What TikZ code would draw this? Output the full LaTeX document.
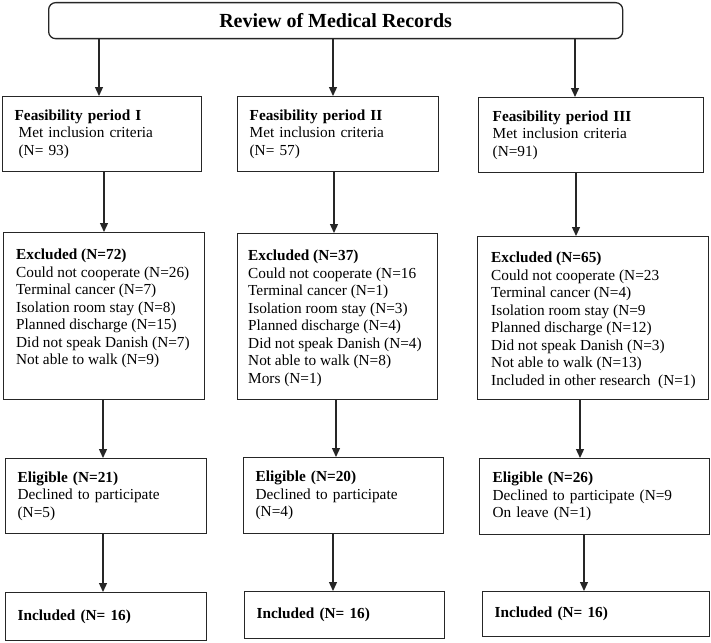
\documentclass[tikz,border=0pt]{standalone}
\usepackage{fontspec}
\setmainfont{Liberation Serif}
\usetikzlibrary{arrows.meta}
\tikzset{
  box/.style={draw=black!85, line width=1.3pt, anchor=north west, align=left, inner xsep=12pt, inner ysep=0pt},
  lst/.style={anchor=north west, align=left, inner sep=0pt},
  arr/.style={draw=black!85, line width=1.3pt, -{Triangle[length=9pt,width=8pt]}},
}
\begin{document}
\begin{tikzpicture}[x=1pt,y=-1pt,font=\fontsize{15.3}{17.5}\selectfont]
    \useasboundingbox (0,0) rectangle (711,642);
    \node[box, rounded corners=7pt, align=center, minimum width=574pt, minimum height=36pt, font=\fontsize{20}{24}\selectfont\bfseries] (rev) at (48,2) {Review of Medical Records};
    % feasibility periods
    \node[box, text width=175pt, minimum height=75pt] (p1) at (2,96) {\textbf{Feasibility period I}\\\hspace*{4pt}Met inclusion criteria\\\hspace*{4pt}(N= 93)};
    \node[box, text width=177pt, minimum height=75pt] (p2) at (237,96) {\textbf{Feasibility period II}\\Met inclusion criteria\\(N= 57)};
    \node[box, inner xsep=14pt, text width=197pt, minimum height=75pt] (p3) at (478,97) {\textbf{Feasibility period III}\\Met inclusion criteria\\(N=91)};
    % excluded
    \node[box, minimum width=201pt, minimum height=167pt] (x1) at (3,232) {};
    \node[lst] (x1t) at (16,249) {\textbf{Excluded (N=72)}\\Could not cooperate (N=26)\\Terminal cancer (N=7)\\Isolation room stay (N=8)\\Planned discharge (N=15)\\Did not speak Danish (N=7)\\Not able to walk (N=9)};
    \node[box, minimum width=200pt, minimum height=166pt] (x2) at (237,233) {};
    \node[lst] (x2t) at (248,250) {\textbf{Excluded (N=37)}\\Could not cooperate (N=16\\Terminal cancer (N=1)\\Isolation room stay (N=3)\\Planned discharge (N=4)\\Did not speak Danish (N=4)\\Not able to walk (N=8)\\Mors (N=1)};
    \node[box, minimum width=231pt, minimum height=163pt] (x3) at (477,236) {};
    \node[lst] (x3t) at (491,252) {\textbf{Excluded (N=65)}\\Could not cooperate (N=23\\Terminal cancer (N=4)\\Isolation room stay (N=9\\Planned discharge (N=12)\\Did not speak Danish (N=3)\\Not able to walk (N=13)\\Included in other research\ \ (N=1)};
    % eligible
    \node[box, text width=177pt, minimum height=75pt] (e1) at (5,458) {\textbf{Eligible (N=21)}\\Declined to participate\\(N=5)};
    \node[box, text width=176pt, minimum height=76pt] (e2) at (243,457) {\textbf{Eligible (N=20)}\\Declined to participate\\(N=4)};
    \node[box, inner xsep=13pt, text width=204pt, minimum height=76pt] (e3) at (479,458) {\textbf{Eligible (N=26)}\\Declined to participate (N=9\\On leave (N=1)};
    % included
    \node[box, text width=177pt, minimum height=48pt] (i1) at (5,592) {\textbf{Included (N= 16)}};
    \node[box, text width=176pt, minimum height=47pt] (i2) at (244,591) {\textbf{Included (N= 16)}};
    \node[box, text width=203pt, minimum height=45pt] (i3) at (482,591) {\textbf{Included (N= 16)}};
    % arrows
    \draw[arr] (rev.south -| 99,0) -- (p1.north -| 99,0);
    \draw[arr] (rev.south -| 333,0) -- (p2.north -| 333,0);
    \draw[arr] (rev.south -| 575,0) -- (p3.north -| 575,0);
    \draw[arr] (p1.south -| 104,0) -- (x1.north -| 104,0);
    \draw[arr] (p2.south -| 334,0) -- (x2.north -| 334,0);
    \draw[arr] (p3.south -| 576,0) -- (x3.north -| 576,0);
    \draw[arr] (x1.south -| 103,0) -- (e1.north -| 103,0);
    \draw[arr] (x2.south -| 336,0) -- (e2.north -| 336,0);
    \draw[arr] (x3.south -| 580,0) -- (e3.north -| 580,0);
    \draw[arr] (e1.south -| 103,0) -- (i1.north -| 103,0);
    \draw[arr] (e2.south -| 333,0) -- (i2.north -| 333,0);
    \draw[arr] (e3.south -| 584,0) -- (i3.north -| 584,0);
\end{tikzpicture}
\end{document}
